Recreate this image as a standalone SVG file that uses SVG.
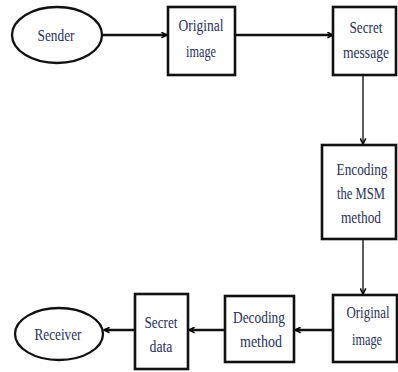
<svg xmlns="http://www.w3.org/2000/svg" width="398" height="372" viewBox="0 0 398 372">
<defs>
<marker id="ah" viewBox="0 0 10 10" refX="9" refY="5" markerWidth="7" markerHeight="7" markerUnits="userSpaceOnUse" orient="auto">
<path d="M1,1 L9,5 L1,9" fill="none" stroke="#000" stroke-width="2.2"/>
</marker>
<style>
.b{fill:#fff;stroke:#111;stroke-width:2.6}
.e{fill:#fff;stroke:#111;stroke-width:2.3}
.c{fill:none;stroke:#111;stroke-width:2.5}
.v{fill:none;stroke:#333;stroke-width:1.6}
text{font-family:"Liberation Serif","Times New Roman",serif;font-size:17px;fill:#2a2f5a;text-anchor:middle}
</style>
</defs>
<rect width="398" height="372" fill="#fff"/>
<g id="connectors">
<path class="c" d="M102,35 H167" marker-end="url(#ah)"/>
<path class="c" d="M235,35 H333" marker-end="url(#ah)"/>
<path class="v" d="M363,75 V144" marker-end="url(#ah)"/>
<path class="v" d="M363,239 V294" marker-end="url(#ah)"/>
<path class="c" d="M333,330 H295" marker-end="url(#ah)"/>
<path class="c" d="M225,330 H189" marker-end="url(#ah)"/>
<path class="c" d="M135,330 H104" marker-end="url(#ah)"/>
</g>
<g id="sender">
<ellipse class="e" cx="57" cy="35" rx="45" ry="28"/>
<text x="56" y="41" textLength="37" lengthAdjust="spacingAndGlyphs">Sender</text>
</g>
<g id="original1">
<rect class="b" x="168" y="7" width="67" height="68"/>
<text x="201" y="31" textLength="45" lengthAdjust="spacingAndGlyphs">Original</text>
<text x="201" y="57" textLength="30" lengthAdjust="spacingAndGlyphs">image</text>
</g>
<g id="secret-message">
<rect class="b" x="333" y="7" width="63" height="68"/>
<text x="366" y="33" textLength="33" lengthAdjust="spacingAndGlyphs">Secret</text>
<text x="366" y="58" textLength="46" lengthAdjust="spacingAndGlyphs">message</text>
</g>
<g id="encoding">
<rect class="b" x="322" y="145" width="74" height="94"/>
<text x="362" y="175" textLength="51" lengthAdjust="spacingAndGlyphs">Encoding</text>
<text x="361" y="199" textLength="48" lengthAdjust="spacingAndGlyphs">the MSM</text>
<text x="361" y="223" textLength="40" lengthAdjust="spacingAndGlyphs">method</text>
</g>
<g id="original2">
<rect class="b" x="333" y="295" width="64" height="67"/>
<text x="368" y="318" textLength="43" lengthAdjust="spacingAndGlyphs">Original</text>
<text x="367" y="345" textLength="30" lengthAdjust="spacingAndGlyphs">image</text>
</g>
<g id="decoding">
<rect class="b" x="225" y="296" width="69" height="66"/>
<text x="259" y="323" textLength="52" lengthAdjust="spacingAndGlyphs">Decoding</text>
<text x="261" y="347" textLength="42" lengthAdjust="spacingAndGlyphs">method</text>
</g>
<g id="secret-data">
<rect class="b" x="135" y="294" width="53" height="75"/>
<text x="161" y="328" textLength="33" lengthAdjust="spacingAndGlyphs">Secret</text>
<text x="161" y="352" textLength="23" lengthAdjust="spacingAndGlyphs">data</text>
</g>
<g id="receiver">
<ellipse class="e" cx="59" cy="334" rx="44" ry="26"/>
<text x="58" y="340" textLength="47" lengthAdjust="spacingAndGlyphs">Receiver</text>
</g>
</svg>
